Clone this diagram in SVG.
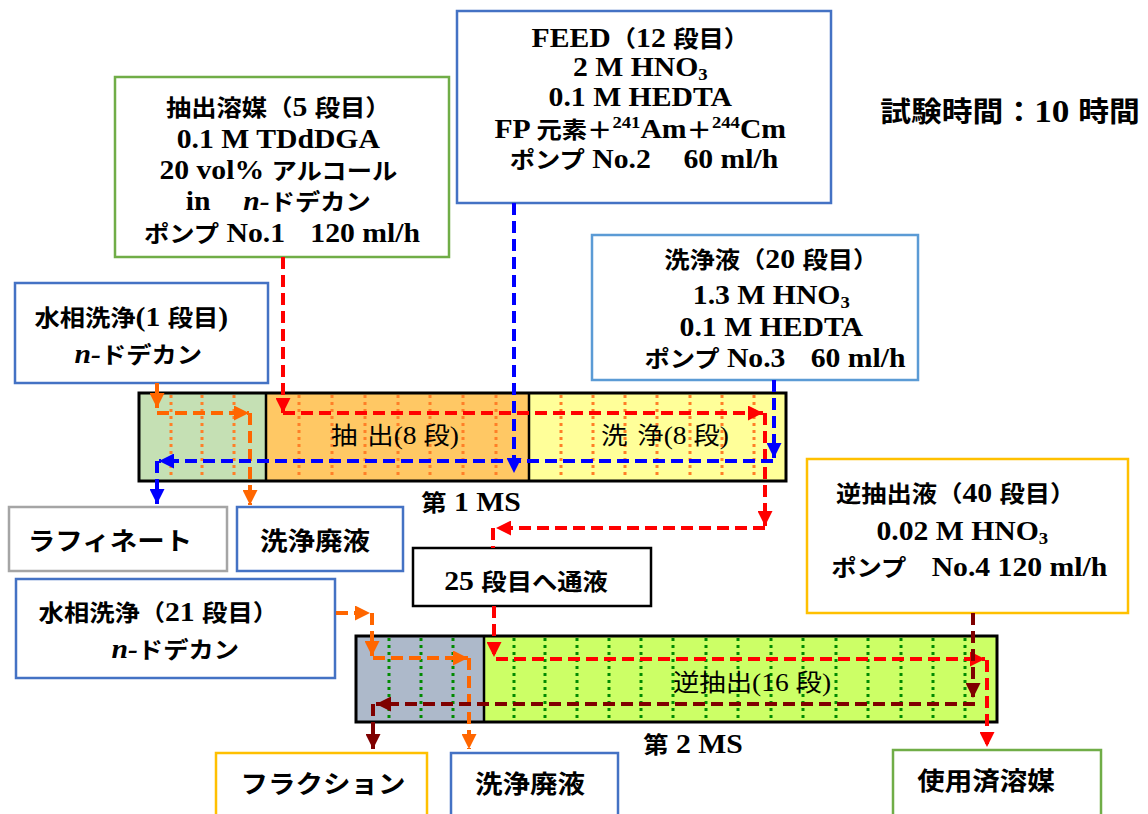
<svg xmlns="http://www.w3.org/2000/svg" width="1148" height="814" viewBox="0 0 1148 814">
<style>
.box{fill:#fff;stroke-width:2.5}
.t{font-family:"Liberation Serif","Noto Sans CJK JP",serif;font-weight:bold;font-size:27px;text-anchor:middle;fill:#000}
.j{font-family:"Noto Sans CJK JP",sans-serif;font-size:23px}
.lb{font-family:"Noto Sans CJK JP",sans-serif;font-weight:bold;font-size:25px;text-anchor:middle;fill:#000}
.bl{font-family:"Liberation Serif","Noto Sans CJK JP",serif;font-size:25px;text-anchor:middle;fill:#000}
.bj{font-family:"Noto Sans CJK JP",sans-serif;font-size:24px}
.it{font-style:italic}
.bar{stroke:#000;stroke-width:3}
.dv{stroke:#000;stroke-width:2.5}
.dO{stroke:#FF7F27;stroke-width:3;stroke-dasharray:3 4}
.dG{stroke:#008A00;stroke-width:3;stroke-dasharray:3 4}
.c{fill:none;stroke-width:4;stroke-dasharray:12 6}
.r{stroke:#FF0000}.b{stroke:#0000FF}.o{stroke:#FF6600}.m{stroke:#7F0000}
</style>
<defs>
<marker id="aR" viewBox="0 0 10 10" refX="10" refY="5" markerWidth="15" markerHeight="15" markerUnits="userSpaceOnUse" orient="auto"><path d="M0,0L10,5L0,10z" fill="#FF0000"/></marker>
<marker id="aB" viewBox="0 0 10 10" refX="10" refY="5" markerWidth="15" markerHeight="15" markerUnits="userSpaceOnUse" orient="auto"><path d="M0,0L10,5L0,10z" fill="#0000FF"/></marker>
<marker id="aO" viewBox="0 0 10 10" refX="10" refY="5" markerWidth="15" markerHeight="15" markerUnits="userSpaceOnUse" orient="auto"><path d="M0,0L10,5L0,10z" fill="#FF6600"/></marker>
<marker id="aM" viewBox="0 0 10 10" refX="10" refY="5" markerWidth="15" markerHeight="15" markerUnits="userSpaceOnUse" orient="auto"><path d="M0,0L10,5L0,10z" fill="#7F0000"/></marker>
</defs>

<g id="ms1">
<rect x="139" y="393" width="127" height="88" fill="#C5E0B4"/>
<rect x="266" y="393" width="263" height="88" fill="#FFC864"/>
<rect x="529" y="393" width="257" height="88" fill="#FFFF99"/>
<g>
<line class="dO" x1="171" y1="395" x2="171" y2="479"/><line class="dO" x1="202" y1="395" x2="202" y2="479"/><line class="dO" x1="234" y1="395" x2="234" y2="479"/>
<line class="dO" x1="299" y1="395" x2="299" y2="479"/><line class="dO" x1="332" y1="395" x2="332" y2="479"/><line class="dO" x1="365" y1="395" x2="365" y2="479"/><line class="dO" x1="398" y1="395" x2="398" y2="479"/><line class="dO" x1="430" y1="395" x2="430" y2="479"/><line class="dO" x1="463" y1="395" x2="463" y2="479"/><line class="dO" x1="496" y1="395" x2="496" y2="479"/>
<line class="dO" x1="561" y1="395" x2="561" y2="479"/><line class="dO" x1="593" y1="395" x2="593" y2="479"/><line class="dO" x1="625" y1="395" x2="625" y2="479"/><line class="dO" x1="657" y1="395" x2="657" y2="479"/><line class="dO" x1="690" y1="395" x2="690" y2="479"/><line class="dO" x1="722" y1="395" x2="722" y2="479"/><line class="dO" x1="754" y1="395" x2="754" y2="479"/>
</g>
<rect class="bar" x="139" y="393" width="647" height="88" fill="none"/>
<line class="dv" x1="266" y1="393" x2="266" y2="481"/>
<line class="dv" x1="529" y1="393" x2="529" y2="481"/>
<text class="bl" transform="translate(395,0) scale(1.1,1)"><tspan x="0" y="444"><tspan class="bj">抽</tspan><tspan class="bj" dx="9">出</tspan>(8 <tspan class="bj">段</tspan>)</tspan></text>
<text class="bl" transform="translate(665,0) scale(1.1,1)"><tspan x="0" y="444"><tspan class="bj">洗</tspan><tspan class="bj" dx="9">浄</tspan>(8 <tspan class="bj">段</tspan>)</tspan></text>
<text class="t" transform="translate(471,0) scale(1.1,1)"><tspan x="0" y="511"><tspan class="j">第</tspan> 1 MS</tspan></text>
</g>

<g id="ms2">
<rect x="356" y="636" width="128" height="86" fill="#ADB9CA"/>
<rect x="484" y="636" width="513" height="86" fill="#CCFF66"/>
<g>
<line class="dG" x1="389" y1="638" x2="389" y2="720"/><line class="dG" x1="421" y1="638" x2="421" y2="720"/><line class="dG" x1="453" y1="638" x2="453" y2="720"/>
<line class="dG" x1="514" y1="638" x2="514" y2="720"/><line class="dG" x1="545" y1="638" x2="545" y2="720"/><line class="dG" x1="577" y1="638" x2="577" y2="720"/><line class="dG" x1="609" y1="638" x2="609" y2="720"/><line class="dG" x1="641" y1="638" x2="641" y2="720"/><line class="dG" x1="673" y1="638" x2="673" y2="720"/><line class="dG" x1="706" y1="638" x2="706" y2="720"/><line class="dG" x1="738" y1="638" x2="738" y2="720"/><line class="dG" x1="771" y1="638" x2="771" y2="720"/><line class="dG" x1="803" y1="638" x2="803" y2="720"/><line class="dG" x1="836" y1="638" x2="836" y2="720"/><line class="dG" x1="868" y1="638" x2="868" y2="720"/><line class="dG" x1="901" y1="638" x2="901" y2="720"/><line class="dG" x1="933" y1="638" x2="933" y2="720"/><line class="dG" x1="965" y1="638" x2="965" y2="720"/>
</g>
<rect class="bar" x="356" y="636" width="641" height="86" fill="none"/>
<line class="dv" x1="484" y1="636" x2="484" y2="722"/>
<text class="bl" transform="translate(752,0) scale(1.1,1)"><tspan x="0" y="691"><tspan class="bj">逆抽出</tspan>(16 <tspan class="bj">段</tspan>)</tspan></text>
<text class="t" transform="translate(693,0) scale(1.1,1)"><tspan x="0" y="753"><tspan class="j">第</tspan> 2 MS</tspan></text>
</g>

<g id="n-solvent">
<rect class="box" x="115" y="77" width="334" height="180" stroke="#70AD47"/>
<text class="t" transform="translate(282,0) scale(1.1,1)">
<tspan x="0" y="116"><tspan class="j">抽出溶媒（</tspan>5 <tspan class="j">段目）</tspan></tspan>
<tspan x="0" y="148">0.1 M TDdDGA</tspan>
<tspan x="0" y="179">20 vol% <tspan class="j">アルコール</tspan></tspan>
<tspan x="0" y="210">in <tspan class="j">　</tspan><tspan class="it">n-</tspan><tspan class="j">ドデカン</tspan></tspan>
<tspan x="0" y="242"><tspan class="j">ポンプ</tspan> No.1<tspan class="j">　</tspan>120 ml/h</tspan>
</text>
</g>

<g id="n-feed">
<rect class="box" x="457" y="11" width="374" height="192" stroke="#4472C4"/>
<text class="t" transform="translate(644,0) scale(1.1,1)">
<tspan x="0" y="47">FEED<tspan class="j">（</tspan>12 <tspan class="j">段目）</tspan></tspan>
<tspan x="0" y="76">2 M HNO<tspan style="font-size:17px" dy="4">3</tspan></tspan>
<tspan x="0" y="106">0.1 M HEDTA</tspan>
<tspan x="0" y="138">FP <tspan class="j">元素＋</tspan><tspan style="font-size:17px" dy="-10">241</tspan><tspan dy="10">Am</tspan><tspan class="j">＋</tspan><tspan style="font-size:17px" dy="-10">244</tspan><tspan dy="10">Cm</tspan></tspan>
<tspan x="0" y="168"><tspan class="j">ポンプ</tspan> No.2 <tspan class="j">　</tspan>60 ml/h</tspan>
</text>
</g>

<g id="n-time">
<text class="t" transform="translate(1010,0) scale(1.1,1)" style="font-size:32px"><tspan x="0" y="122"><tspan class="j" style="font-size:28px">試験時間：</tspan>10 <tspan class="j" style="font-size:28px">時間</tspan></tspan></text>
</g>

<g id="n-aqwash1">
<rect class="box" x="15" y="283" width="253" height="100" stroke="#4472C4"/>
<text class="t" transform="translate(135,0) scale(1.1,1)">
<tspan x="0" y="326"><tspan class="j">水相洗浄</tspan>(1 <tspan class="j">段目</tspan>)</tspan>
<tspan x="3" y="363"><tspan class="it">n-</tspan><tspan class="j">ドデカン</tspan></tspan>
</text>
</g>

<g id="n-scrub">
<rect class="box" x="592" y="235" width="326" height="145" stroke="#5B9BD5"/>
<text class="t" transform="translate(775,0) scale(1.1,1)">
<tspan x="0" y="268"><tspan class="j">洗浄液（</tspan>20 <tspan class="j">段目）</tspan></tspan>
<tspan x="0" y="304">1.3 M HNO<tspan style="font-size:17px" dy="4">3</tspan></tspan>
<tspan x="0" y="336">0.1 M HEDTA</tspan>
<tspan x="0" y="367"><tspan class="j">ポンプ</tspan> No.3<tspan class="j">　</tspan>60 ml/h</tspan>
</text>
</g>

<g id="n-raffinate">
<rect class="box" x="9" y="507" width="218" height="64" stroke="#A5A5A5"/>
<text class="lb" transform="translate(110,0) scale(1.1,1)"><tspan x="0" y="550">ラフィネート</tspan></text>
</g>

<g id="n-waste1">
<rect class="box" x="237" y="507" width="166" height="64" stroke="#4472C4"/>
<text class="lb" transform="translate(315,0) scale(1.1,1)"><tspan x="0" y="550">洗浄廃液</tspan></text>
</g>

<g id="n-aqwash21">
<rect class="box" x="16" y="579" width="319" height="99" stroke="#4472C4"/>
<text class="t" transform="translate(162,0) scale(1.1,1)">
<tspan x="0" y="621"><tspan class="j">水相洗浄（</tspan>21 <tspan class="j">段目）</tspan></tspan>
<tspan x="12" y="658"><tspan class="it">n-</tspan><tspan class="j">ドデカン</tspan></tspan>
</text>
</g>

<g id="n-transfer">
<rect class="box" x="413" y="548" width="238" height="58" stroke="#000"/>
<text class="t" transform="translate(526,0) scale(1.1,1)"><tspan x="0" y="590">25 <tspan class="j">段目へ通液</tspan></tspan></text>
</g>

<g id="n-strip">
<rect class="box" x="807" y="459" width="321" height="154" stroke="#FFC000"/>
<text class="t" transform="translate(966,0) scale(1.1,1)">
<tspan x="-6" y="502"><tspan class="j">逆抽出液（</tspan>40 <tspan class="j">段目）</tspan></tspan>
<tspan x="0" y="540">0.02 M HNO<tspan style="font-size:17px" dy="4">3</tspan></tspan>
<tspan x="3" y="576"><tspan class="j">ポンプ　</tspan>No.4 120 ml/h</tspan>
</text>
</g>

<g id="n-fraction">
<rect class="box" x="216" y="753" width="211" height="75" stroke="#FFC000"/>
<text class="lb" transform="translate(323,0) scale(1.1,1)"><tspan x="0" y="793">フラクション</tspan></text>
</g>

<g id="n-waste2">
<rect class="box" x="451" y="753" width="167" height="75" stroke="#4472C4"/>
<text class="lb" transform="translate(530,0) scale(1.1,1)"><tspan x="0" y="793">洗浄廃液</tspan></text>
</g>

<g id="n-spent">
<rect class="box" x="893" y="750" width="208" height="75" stroke="#70AD47"/>
<text class="lb" transform="translate(986,0) scale(1.1,1)"><tspan x="0" y="790">使用済溶媒</tspan></text>
</g>

<g id="connectors">
<path class="c o" d="M157,383V408" marker-end="url(#aO)"/>
<path class="c o" d="M157,413H249" marker-end="url(#aO)"/>
<path class="c o" d="M250,413V505" marker-end="url(#aO)"/>
<path class="c r" d="M283,257V413" marker-end="url(#aR)"/>
<path class="c r" d="M283,413H763" marker-end="url(#aR)"/>
<path class="c r" d="M765,413V526" marker-end="url(#aR)"/>
<path class="c r" d="M765,528H496" marker-end="url(#aR)"/>
<path class="c r" d="M493,528V548"/>
<path class="c r" d="M494,606V657" marker-end="url(#aR)"/>
<path class="c r" d="M496,659H985" marker-end="url(#aR)"/>
<path class="c r" d="M987,660V747" marker-end="url(#aR)"/>
<path class="c b" d="M514,203V473" marker-end="url(#aB)"/>
<path class="c b" d="M774,380V458" marker-end="url(#aB)"/>
<path class="c b" d="M773,461H159" marker-end="url(#aB)"/>
<path class="c b" d="M157,461V504" marker-end="url(#aB)"/>
<path class="c o" d="M336,613H370" marker-end="url(#aO)"/>
<path class="c o" d="M372,613V656" marker-end="url(#aO)"/>
<path class="c o" d="M373,658H468" marker-end="url(#aO)"/>
<path class="c o" d="M469,658V749" marker-end="url(#aO)"/>
<path class="c m" d="M973,613V698" marker-end="url(#aM)"/>
<path class="c m" d="M975,704H376" marker-end="url(#aM)"/>
<path class="c m" d="M373,704V749" marker-end="url(#aM)"/>
</g>
</svg>
